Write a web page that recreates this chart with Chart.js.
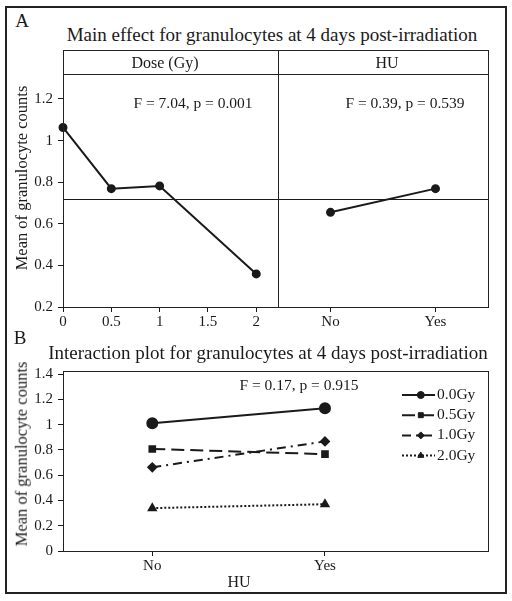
<!DOCTYPE html>
<html>
<head>
<meta charset="utf-8">
<script src="https://cdn.jsdelivr.net/npm/chart.js@4.4.1/dist/chart.umd.min.js"></script>
<style>
body { margin: 0; background: #fff; }
#fig { position: relative; width: 512px; height: 601px; background: #fff; font-family: "Liberation Serif", "Times New Roman", serif; color: #1a1a1a; overflow: hidden; }
.abs { position: absolute; }
.txt { position: absolute; white-space: nowrap; line-height: 1; transform: translate(-50%, -50%); }
.rot { transform: translate(-50%, -50%) rotate(-90deg); }
.box { position: absolute; border: 1px solid #222; box-sizing: border-box; pointer-events: none; }
.hl { position: absolute; height: 1px; background: #222; }
.vl { position: absolute; width: 1px; background: #222; }
</style>
</head>
<body>
<div id="fig">
  <div class="abs" style="left:5px;top:6px;width:502px;height:588px;border:2px solid #222;box-sizing:border-box;"></div>

  <!-- Panel A -->
  <div class="txt" style="left:22px;top:20px;font-size:19px;">A</div>
  <div class="txt" style="left:272px;top:34px;font-size:19px;">Main effect for granulocytes at 4 days post-irradiation</div>
  <div class="abs" style="left:0;top:50px;width:278px;height:285px;"><canvas id="doseChart"></canvas></div>
  <div class="abs" style="left:278px;top:50px;width:210px;height:285px;"><canvas id="huChart"></canvas></div>
  <div class="box" style="left:63px;top:50px;width:426px;height:258px;"></div>
  <div class="hl" style="left:63px;top:74px;width:426px;"></div>
  <div class="vl" style="left:278px;top:50px;height:258px;"></div>
  <div class="txt" style="left:165px;top:63px;font-size:16px;">Dose (Gy)</div>
  <div class="txt" style="left:387px;top:63px;font-size:16px;">HU</div>
  <div class="txt" style="left:193px;top:103px;font-size:15.5px;">F = 7.04, p = 0.001</div>
  <div class="txt" style="left:405px;top:103px;font-size:15.5px;">F = 0.39, p = 0.539</div>
  <div class="txt rot" style="left:22px;top:178px;font-size:16.5px;">Mean of granulocyte counts</div>

  <!-- Panel B -->
  <div class="txt" style="left:20px;top:337px;font-size:19px;">B</div>
  <div class="txt" style="left:268px;top:352px;font-size:19px;">Interaction plot for granulocytes at 4 days post-irradiation</div>
  <div class="abs" style="left:0;top:360px;width:500px;height:215px;"><canvas id="interChart"></canvas></div>
  <div class="box" style="left:63px;top:371px;width:426px;height:181px;"></div>
  <div class="txt" style="left:299px;top:385px;font-size:15.5px;">F = 0.17, p = 0.915</div>
  <div class="txt rot" style="left:22px;top:454px;font-size:16.5px;">Mean of granulocyte counts</div>
  <div class="txt" style="left:239px;top:582px;font-size:16px;">HU</div>
</div>

<script>
// --- données ---
const doseLevels = [0, 0.5, 1, 2];
const doseMeans = [1.063, 0.769, 0.782, 0.359];
const doseTicks = [0, 0.5, 1, 1.5, 2];

const huLabels = ['No', 'Yes'];
const huMeans = [0.655, 0.769];

const grandMean = 0.717;
const yTicksA = [0.2, 0.4, 0.6, 0.8, 1, 1.2];

const seriesLabels = ['0.0Gy', '0.5Gy', '1.0Gy', '2.0Gy'];
const gy00 = [1.01, 1.13];
const gy05 = [0.807, 0.766];
const gy10 = [0.662, 0.867];
const gy20 = [0.339, 0.37];
const yTicksB = [0, 0.2, 0.4, 0.6, 0.8, 1, 1.2, 1.4];

const ink = '#1a1a1a';
const serif = '"Liberation Serif", "Times New Roman", serif';
Chart.defaults.font.family = serif;
Chart.defaults.color = ink;

/* ---------- Plugins ---------- */
// ligne horizontale de la moyenne générale
const refLine = {
    id: 'refLine',
    beforeDatasetsDraw(chart, args, opts) {
        if (opts.value == null) return;
        const { ctx, chartArea } = chart;
        const y = Math.round(chart.scales.y.getPixelForValue(opts.value)) + 0.5;
        ctx.save();
        ctx.strokeStyle = ink;
        ctx.lineWidth = 1;
        ctx.beginPath();
        ctx.moveTo(chartArea.left, y);
        ctx.lineTo(chartArea.right, y);
        ctx.stroke();
        ctx.restore();
    }
};

// légende "trait + marqueur" à droite du panneau B
const lineLegend = {
    id: 'lineLegend',
    afterDatasetsDraw(chart, args, opts) {
        const ctx = chart.ctx;
        chart.data.datasets.forEach((ds, i) => {
            const y = opts.top + i * opts.gap;
            ctx.save();
            ctx.strokeStyle = ink;
            ctx.fillStyle = ink;
            ctx.lineWidth = ds.borderWidth;
            ctx.setLineDash(ds.borderDash || []);
            ctx.beginPath();
            ctx.moveTo(opts.x, y);
            ctx.lineTo(opts.x + opts.len, y);
            ctx.stroke();
            ctx.setLineDash([]);
            ctx.lineWidth = 1;
            Chart.helpers.drawPoint(ctx, { pointStyle: ds.pointStyle, radius: 3.5, borderWidth: 1, rotation: 0 }, opts.x + opts.len * 0.57, y);
            ctx.font = '15.5px ' + serif;
            ctx.textBaseline = 'middle';
            ctx.textAlign = 'left';
            ctx.fillText(ds.label, opts.x + opts.len + 2, y);
            ctx.restore();
        });
    }
};

function fixTicks(list) {
    return (scale) => { scale.ticks = list.map(v => ({ value: v })); };
}

const tickGrid = { display: true, drawOnChartArea: false, drawTicks: true, tickLength: 5, color: ink, lineWidth: 1 };
const tickFont = { size: 15, family: serif };

/* ---------- A : effet de la dose ---------- */
new Chart(document.getElementById('doseChart'), {
    type: 'line',
    data: {
        datasets: [{
            data: doseLevels.map((x, i) => ({ x: x, y: doseMeans[i] })),
            borderColor: ink, backgroundColor: ink, borderWidth: 2,
            pointRadius: 3.5, pointHoverRadius: 3.5, clip: false
        }]
    },
    options: {
        animation: false, responsive: true, maintainAspectRatio: false,
        layout: { autoPadding: false, padding: { top: 24, left: 0, right: 0, bottom: 0 } },
        plugins: { legend: { display: false }, tooltip: { enabled: false }, refLine: { value: grandMean } },
        scales: {
            x: {
                type: 'linear', min: 0, max: 2.225,
                afterBuildTicks: fixTicks(doseTicks),
                afterFit: (s) => { s.height = 28; },
                grid: tickGrid, border: { display: false },
                ticks: { font: tickFont, padding: 1, maxRotation: 0, callback: (v) => String(v) }
            },
            y: {
                min: 0.2, max: 1.32,
                afterBuildTicks: fixTicks(yTicksA),
                afterFit: (s) => { s.width = 63; },
                grid: tickGrid, border: { display: false },
                ticks: { font: tickFont, padding: 5, callback: (v) => String(v) }
            }
        }
    },
    plugins: [refLine]
});

/* ---------- A : effet HU ---------- */
new Chart(document.getElementById('huChart'), {
    type: 'line',
    data: {
        labels: huLabels,
        datasets: [{
            data: huMeans,
            borderColor: ink, backgroundColor: ink, borderWidth: 2,
            pointRadius: 3.5, pointHoverRadius: 3.5, clip: false
        }]
    },
    options: {
        animation: false, responsive: true, maintainAspectRatio: false,
        layout: { autoPadding: false, padding: { top: 24, left: 0, right: 0, bottom: 0 } },
        plugins: { legend: { display: false }, tooltip: { enabled: false }, refLine: { value: grandMean } },
        scales: {
            x: {
                type: 'category', offset: true,
                afterFit: (s) => { s.height = 28; },
                grid: Object.assign({}, tickGrid, { offset: false }), border: { display: false },
                ticks: { font: tickFont, padding: 1, maxRotation: 0 }
            },
            y: { display: false, min: 0.2, max: 1.32 }
        }
    },
    plugins: [refLine]
});

/* ---------- B : interaction ---------- */
const huPos = [0, 1];
function pts(arr) { return huPos.map((x, i) => ({ x: x, y: arr[i] })); }

new Chart(document.getElementById('interChart'), {
    type: 'line',
    data: {
        datasets: [
            { label: seriesLabels[0], data: pts(gy00), borderColor: ink, backgroundColor: ink, borderWidth: 2, pointStyle: 'circle', pointRadius: 5, clip: false },
            { label: seriesLabels[1], data: pts(gy05), borderColor: ink, backgroundColor: ink, borderWidth: 2, borderDash: [13, 6], pointStyle: 'rect', pointRadius: 4, clip: false },
            { label: seriesLabels[2], data: pts(gy10), borderColor: ink, backgroundColor: ink, borderWidth: 2, borderDash: [9, 5, 2, 5], pointStyle: 'rectRot', pointRadius: 4, clip: false },
            { label: seriesLabels[3], data: pts(gy20), borderColor: ink, backgroundColor: ink, borderWidth: 2, borderDash: [2, 2], pointStyle: 'triangle', pointRadius: 4, clip: false }
        ]
    },
    options: {
        animation: false, responsive: true, maintainAspectRatio: false,
        layout: { autoPadding: false, padding: { top: 11, left: 0, right: 12, bottom: 0 } },
        plugins: {
            legend: { display: false }, tooltip: { enabled: false },
            lineLegend: { x: 402, len: 33, top: 35, gap: 20.2 }
        },
        scales: {
            x: {
                type: 'linear', min: -0.517, max: 1.944,
                afterBuildTicks: fixTicks(huPos),
                afterFit: (s) => { s.height = 24; },
                grid: tickGrid, border: { display: false },
                ticks: { font: tickFont, padding: 1, maxRotation: 0, callback: (v) => huLabels[v] }
            },
            y: {
                min: 0, max: 1.4,
                afterBuildTicks: fixTicks(yTicksB),
                afterFit: (s) => { s.width = 63; },
                grid: tickGrid, border: { display: false },
                ticks: { font: tickFont, padding: 5, callback: (v) => String(v) }
            }
        }
    },
    plugins: [lineLegend]
});
</script>
</body>
</html>
